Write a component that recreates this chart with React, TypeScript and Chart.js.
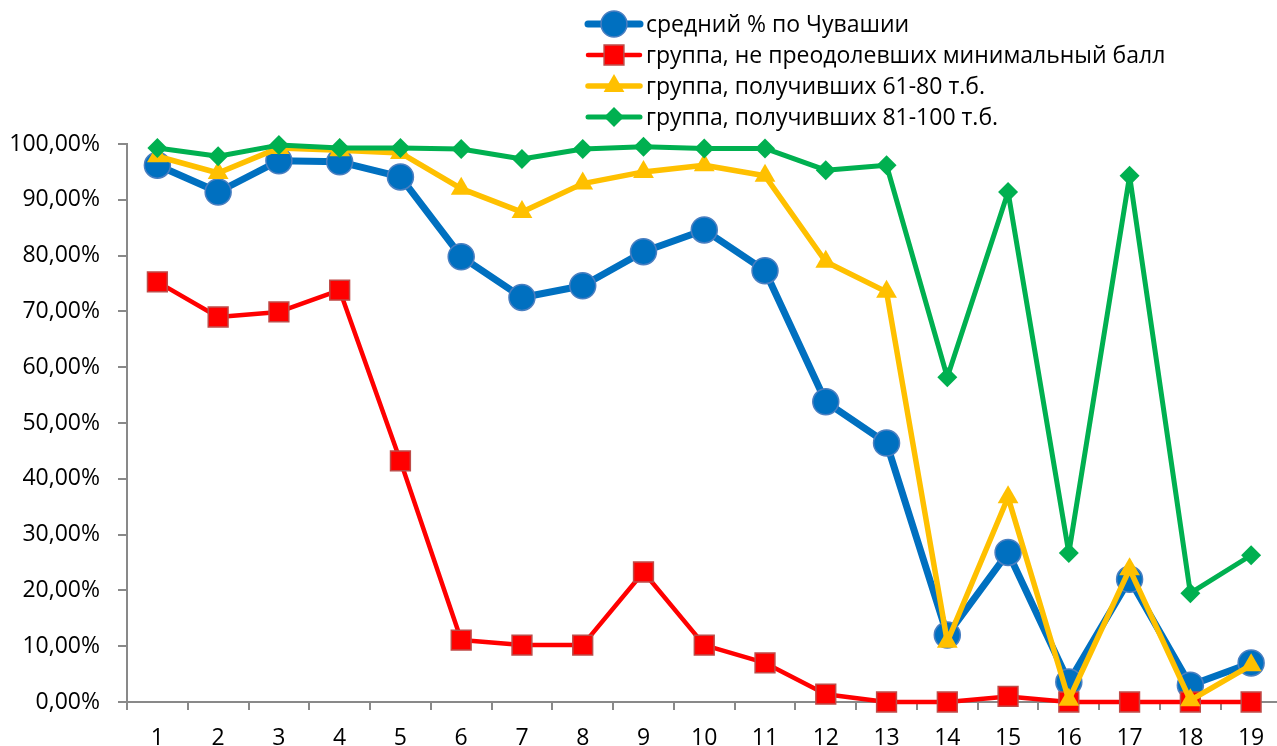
import React, { useEffect, useRef } from 'react';
import { Chart, registerables } from 'chart.js';

Chart.register(...registerables);

const categories = ['1', '2', '3', '4', '5', '6', '7', '8', '9', '10', '11', '12', '13', '14', '15', '16', '17', '18', '19'];
const seriesNames = [
  'средний % по Чувашии',
  'группа, не преодолевших минимальный балл',
  'группа, получивших 61-80 т.б.',
  'группа, получивших 81-100 т.б.',
];
const avgValues = [96.2, 91.4, 97.0, 96.8, 94.1, 79.8, 72.5, 74.6, 80.7, 84.6, 77.3, 53.8, 46.4, 12.0, 26.8, 3.6, 22.0, 3.0, 7.0];
const failedValues = [75.3, 69.0, 69.9, 73.8, 43.2, 11.1, 10.2, 10.2, 23.3, 10.2, 7.0, 1.4, 0, 0, 1.0, 0, 0, 0, 0];
const midValues = [97.8, 94.8, 99.3, 98.9, 98.4, 92.0, 87.8, 92.9, 95.0, 96.2, 94.3, 78.9, 73.5, 10.8, 36.7, 0.4, 23.8, 0.3, 6.6];
const topValues = [99.3, 97.8, 99.8, 99.3, 99.3, 99.1, 97.3, 99.1, 99.5, 99.2, 99.2, 95.3, 96.2, 58.2, 91.4, 26.7, 94.3, 19.5, 26.3];
const yTicks = [0, 10, 20, 30, 40, 50, 60, 70, 80, 90, 100];

const FONT = "'Open Sans'";
const AXIS = '#898989';

function drawMarker(ctx: CanvasRenderingContext2D, style: string, x: number, y: number, r: number, fill: string, stroke: string, bw: number) {
  ctx.save();
  ctx.beginPath();
  if (style === 'circle') {
    ctx.arc(x, y, r, 0, Math.PI * 2);
  } else if (style === 'rect') {
    const s = Math.SQRT1_2 * r;
    ctx.rect(x - s, y - s, 2 * s, 2 * s);
  } else if (style === 'triangle') {
    for (let i = 0; i < 3; i++) {
      const a = (i * 2 * Math.PI) / 3;
      const px = x + Math.sin(a) * r;
      const py = y - Math.cos(a) * r;
      if (i === 0) ctx.moveTo(px, py); else ctx.lineTo(px, py);
    }
    ctx.closePath();
  } else {
    ctx.moveTo(x - r, y);
    ctx.lineTo(x, y - r);
    ctx.lineTo(x + r, y);
    ctx.lineTo(x, y + r);
    ctx.closePath();
  }
  ctx.fillStyle = fill;
  ctx.fill();
  if (bw > 0) {
    ctx.lineWidth = bw;
    ctx.strokeStyle = stroke;
    ctx.stroke();
  }
  ctx.restore();
}

const legendPlugin = {
  id: 'vertLegend',
  afterDraw(chart: any) {
    const ctx: CanvasRenderingContext2D = chart.ctx;
    const rows = [24, 55, 86, 117];
    chart.data.datasets.forEach((ds: any, i: number) => {
      const y = rows[i];
      ctx.save();
      ctx.strokeStyle = ds.borderColor;
      ctx.lineWidth = ds.borderWidth;
      ctx.lineCap = 'round';
      ctx.beginPath();
      ctx.moveTo(588, y);
      ctx.lineTo(640, y);
      ctx.stroke();
      ctx.restore();
      drawMarker(ctx, ds.pointStyle, 614, y, ds.pointRadius, ds.pointBackgroundColor, ds.pointBorderColor, ds.pointBorderWidth);
      ctx.save();
      ctx.fillStyle = '#000';
      ctx.font = `23px ${FONT}`;
      ctx.textBaseline = 'middle';
      ctx.textAlign = 'left';
      ctx.fillText(ds.label, 646, y + 1);
      ctx.restore();
    });
  },
};

export default function App() {
  const ref = useRef<HTMLCanvasElement | null>(null);
  useEffect(() => {
    document.documentElement.style.overflow = 'hidden';
    document.body.style.overflow = 'hidden';
    if (!ref.current) return;
    const chart = new Chart(ref.current, {
      type: 'line',
      data: {
        labels: categories,
        datasets: [
          {
            label: seriesNames[0], data: avgValues, borderColor: '#0070c0', borderWidth: 7,
            pointStyle: 'circle', pointRadius: 13, pointBackgroundColor: '#0070c0', pointBorderColor: '#4a7fc1', pointBorderWidth: 1.5,
            order: 4, clip: false, borderJoinStyle: 'round', tension: 0,
          },
          {
            label: seriesNames[1], data: failedValues, borderColor: '#ff0000', borderWidth: 4.5,
            pointStyle: 'rect', pointRadius: 14, pointBackgroundColor: '#ff0000', pointBorderColor: '#be4b48', pointBorderWidth: 1.5,
            order: 3, clip: false, borderJoinStyle: 'round', tension: 0,
          },
          {
            label: seriesNames[2], data: midValues, borderColor: '#ffc000', borderWidth: 5.5,
            pointStyle: 'triangle', pointRadius: 12, pointBackgroundColor: '#ffc000', pointBorderColor: '#ffc000', pointBorderWidth: 0,
            order: 2, clip: false, borderJoinStyle: 'round', tension: 0,
          },
          {
            label: seriesNames[3], data: topValues, borderColor: '#00b050', borderWidth: 5,
            pointStyle: 'rectRot', pointRadius: 10, pointBackgroundColor: '#00b050', pointBorderColor: '#00b050', pointBorderWidth: 0,
            order: 1, clip: false, borderJoinStyle: 'round', tension: 0,
          },
        ] as any,
      },
      options: {
        animation: false,
        responsive: true,
        maintainAspectRatio: false,
        layout: { padding: { top: 144, left: 0, right: 0, bottom: 0 } },
        plugins: { legend: { display: false }, tooltip: { enabled: false } },
        elements: { point: { hoverRadius: 13 } },
        scales: {
          x: {
            type: 'category',
            offset: true,
            grid: { display: true, offset: true, drawOnChartArea: false, drawTicks: true, tickLength: 8, color: AXIS, lineWidth: 2 },
            border: { display: true, color: AXIS, width: 2 },
            ticks: { color: '#000', font: { family: FONT, size: 23 }, padding: 15, maxRotation: 0, autoSkip: false },
            afterFit: (s: any) => { s.height = 44; s.paddingLeft = 0; s.paddingRight = 0; },
          },
          y: {
            min: 0,
            max: 100,
            afterBuildTicks: (s: any) => { s.ticks = yTicks.map((v) => ({ value: v })); },
            grid: { display: true, drawOnChartArea: false, drawTicks: true, tickLength: 9, color: AXIS, lineWidth: 2 },
            border: { display: true, color: AXIS, width: 2 },
            ticks: {
              color: '#000', font: { family: FONT, size: 23 }, padding: 18,
              callback: (v: any) => `${Number(v).toFixed(2).replace('.', ',')}%`,
            },
            afterFit: (s: any) => { s.width = 127; s.paddingTop = 0; s.paddingBottom = 0; },
          },
        },
      },
      plugins: [legendPlugin],
    });
    return () => chart.destroy();
  }, []);
  return (
    <div style={{ position: 'absolute', left: 0, top: 0, width: 1297, height: 746, overflow: 'hidden' }}>
      <canvas ref={ref} />
    </div>
  );
}
